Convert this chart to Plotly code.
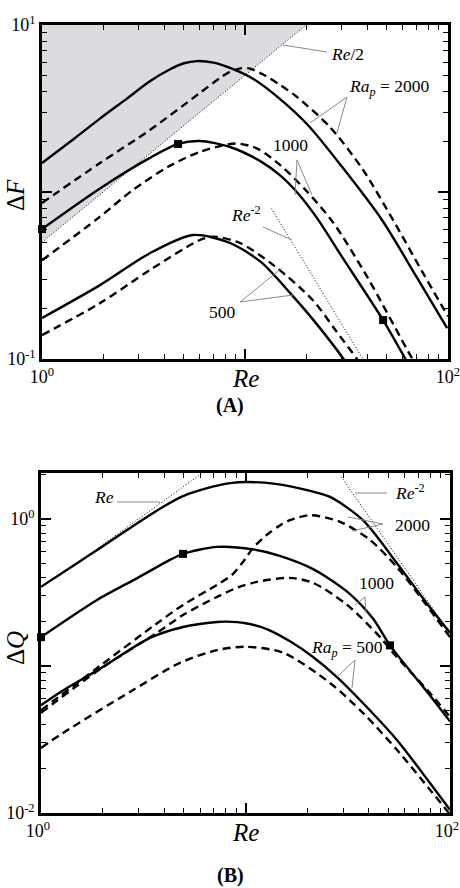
import plotly.graph_objects as go

W, H = 460, 888
FONT = "Liberation Serif"

# ---------------- Panel A data (Delta F vs Re) ----------------
re_a_s2000 = [1, 1.45, 1.93, 2.6, 3.4, 4.3, 5.0, 5.8, 7.0, 8.44, 11, 14.5, 20.4, 30, 47.3, 70, 99]
f_a_s2000 = [1.49, 2.1, 2.75, 3.6, 4.6, 5.45, 5.9, 6.08, 5.95, 5.53, 4.75, 3.7, 2.52, 1.42, 0.68, 0.31, 0.153]

re_a_d2000 = [1, 1.93, 3.4, 6.0, 7.5, 8.44, 9.5, 10.5, 12.3, 15, 18, 26.2, 38.1, 53.6, 75, 100]
f_a_d2000 = [0.86, 1.49, 2.35, 3.92, 4.8, 5.25, 5.5, 5.5, 5.05, 4.35, 3.71, 2.45, 1.36, 0.68, 0.33, 0.18]

re_a_s1000 = [1, 1.93, 3.4, 4.68, 6.0, 8.44, 12, 15, 18.0, 22.6, 30, 47.9, 61.4, 70]
f_a_s1000 = [0.60, 1.05, 1.6, 1.94, 2.02, 1.86, 1.52, 1.25, 1.0, 0.70, 0.41, 0.171, 0.101, 0.076]

re_a_d1000 = [1, 1.87, 2.81, 4.2, 6.0, 9.0, 11.5, 14.9, 20, 27.1, 40, 66.5, 75]
f_a_d1000 = [0.39, 0.69, 1.03, 1.42, 1.74, 1.95, 1.82, 1.45, 1.02, 0.66, 0.31, 0.101, 0.08]

re_a_s500 = [1, 1.93, 3.4, 5.54, 8.44, 12, 16.7, 22, 30.4, 35]
f_a_s500 = [0.176, 0.277, 0.43, 0.553, 0.495, 0.38, 0.248, 0.168, 0.101, 0.078]

re_a_d500 = [1, 1.93, 3.4, 6.0, 7.0, 9.45, 14, 21.6, 28, 35.6, 40]
f_a_d500 = [0.139, 0.216, 0.341, 0.516, 0.54, 0.495, 0.36, 0.225, 0.148, 0.10, 0.08]

mark_a_re = [1, 4.68, 47.9]
mark_a_f = [0.60, 1.94, 0.171]

re_half_line = [1, 20]            # Delta F = Re/2
re_a_minus2 = [13.5, 38]           # Delta F = 145 Re^-2
coef_a_minus2 = 145

# ---------------- Panel B data (Delta Q vs Re) ----------------
re_b_s2000 = [1, 1.5, 2, 2.82, 4.0, 4.95, 6.5, 8.4, 10.2, 14, 20, 25.9, 37.5, 55, 75, 100]
q_b_s2000 = [0.345, 0.5, 0.65, 0.895, 1.22, 1.43, 1.62, 1.75, 1.78, 1.73, 1.57, 1.41, 0.98, 0.5, 0.28, 0.168]

re_b_d2000 = [1, 1.94, 3.6, 4.95, 7.26, 8.59, 9.72, 10.9, 12.7, 14.7, 16.5, 20.7, 29, 40.6, 55, 75, 100]
q_b_d2000 = [0.05, 0.1, 0.19, 0.26, 0.356, 0.416, 0.51, 0.635, 0.778, 0.9, 0.98, 1.06, 0.955, 0.72, 0.47, 0.27, 0.157]

re_b_s1000 = [1, 1.88, 3.0, 4.27, 4.95, 7.26, 10.9, 14.7, 21.4, 31.4, 42, 50.9, 79.8, 100]
q_b_s1000 = [0.157, 0.281, 0.40, 0.526, 0.578, 0.645, 0.62, 0.56, 0.455, 0.32, 0.21, 0.138, 0.063, 0.042]

re_b_d1000 = [1, 1.94, 3.69, 4.95, 7.26, 9.09, 11.4, 16.5, 21.4, 31.4, 45.5, 52.6, 79.8, 100]
q_b_d1000 = [0.048, 0.095, 0.168, 0.222, 0.295, 0.34, 0.373, 0.397, 0.367, 0.26, 0.157, 0.123, 0.0655, 0.045]

re_b_s500 = [1, 1.28, 1.94, 3.41, 4.95, 7.26, 8.1, 10, 12.7, 16.5, 21.4, 28, 37.5, 55, 79.8, 100]
q_b_s500 = [0.054, 0.068, 0.0955, 0.155, 0.184, 0.199, 0.2, 0.195, 0.178, 0.147, 0.115, 0.084, 0.056, 0.0314, 0.016, 0.0105]

re_b_d500 = [1, 1.28, 2.72, 4.78, 7.26, 9.9, 15.3, 25.9, 37.5, 55, 79.8, 100]
q_b_d500 = [0.0277, 0.035, 0.0665, 0.105, 0.128, 0.135, 0.123, 0.0766, 0.048, 0.0269, 0.0144, 0.0098]

mark_b_re = [1, 4.95, 50.9]
mark_b_q = [0.157, 0.578, 0.138]

re_b_line = [1.9, 6.2]              # Delta Q = Re/3
coef_b_line = 1 / 3
re_b_minus2 = [29.4, 100]           # Delta Q = 1670 Re^-2
coef_b_minus2 = 1670

# ---------------- Tick labels ----------------
x_tickvals = [1, 10, 100]
x_ticktext = ["10<sup>0</sup>", "", "10<sup>2</sup>"]
ya_tickvals = [0.1, 1, 10]
ya_ticktext = ["10<sup>-1</sup>", "", "10<sup>1</sup>"]
yb_tickvals = [0.01, 0.1, 1]
yb_ticktext = ["10<sup>-2</sup>", "", "10<sup>0</sup>"]
x_minor = [2, 3, 4, 5, 6, 7, 8, 9, 20, 30, 40, 50, 60, 70, 80, 90]
ya_minor = [0.2, 0.3, 0.4, 0.5, 0.6, 0.7, 0.8, 0.9, 2, 3, 4, 5, 6, 7, 8, 9]
yb_minor = [0.02, 0.03, 0.04, 0.05, 0.06, 0.07, 0.08, 0.09, 0.2, 0.3, 0.4, 0.5, 0.6, 0.7, 0.8, 0.9, 2]


def px(x):
    return x / W


def py(y):
    return 1 - y / H


fig = go.Figure()

SOLID = dict(color="black", width=2.4)
DASH = dict(color="black", width=2.4, dash="8px,5px")
DOT = dict(color="black", width=1, dash="1px,2px")

# Shaded region above Re/2 (panel A)
top_a = ya_tickvals[-1]
half_vals = [r / 2 for r in re_half_line]
fig.add_trace(go.Scatter(
    x=re_half_line + [re_half_line[0]], y=half_vals + [top_a],
    fill="toself", fillcolor="#dcdce0", line=dict(width=0), mode="lines",
    xaxis="x", yaxis="y", hoverinfo="skip", showlegend=False))
fig.add_trace(go.Scatter(x=re_half_line, y=half_vals, mode="lines", line=DOT,
                         xaxis="x", yaxis="y", showlegend=False))
fig.add_trace(go.Scatter(x=re_a_minus2, y=[coef_a_minus2 / r ** 2 for r in re_a_minus2],
                         mode="lines", line=DOT, xaxis="x", yaxis="y", showlegend=False))

for xs, ys, ln in [(re_a_s2000, f_a_s2000, SOLID), (re_a_d2000, f_a_d2000, DASH),
                   (re_a_s1000, f_a_s1000, SOLID), (re_a_d1000, f_a_d1000, DASH),
                   (re_a_s500, f_a_s500, SOLID), (re_a_d500, f_a_d500, DASH)]:
    fig.add_trace(go.Scatter(x=xs, y=ys, mode="lines", line=dict(ln, shape="spline", smoothing=0.8),
                             xaxis="x", yaxis="y", showlegend=False))
fig.add_trace(go.Scatter(x=mark_a_re, y=mark_a_f, mode="markers",
                         marker=dict(symbol="square", size=8, color="black"),
                         xaxis="x", yaxis="y", showlegend=False, cliponaxis=False))

# Panel B
fig.add_trace(go.Scatter(x=re_b_line, y=[coef_b_line * r for r in re_b_line], mode="lines", line=DOT,
                         xaxis="x2", yaxis="y2", showlegend=False))
fig.add_trace(go.Scatter(x=re_b_minus2, y=[coef_b_minus2 / r ** 2 for r in re_b_minus2],
                         mode="lines", line=DOT, xaxis="x2", yaxis="y2", showlegend=False))
for xs, ys, ln in [(re_b_s2000, q_b_s2000, SOLID), (re_b_d2000, q_b_d2000, DASH),
                   (re_b_s1000, q_b_s1000, SOLID), (re_b_d1000, q_b_d1000, DASH),
                   (re_b_s500, q_b_s500, SOLID), (re_b_d500, q_b_d500, DASH)]:
    fig.add_trace(go.Scatter(x=xs, y=ys, mode="lines", line=dict(ln, shape="spline", smoothing=0.8),
                             xaxis="x2", yaxis="y2", showlegend=False))
fig.add_trace(go.Scatter(x=mark_b_re, y=mark_b_q, mode="markers",
                         marker=dict(symbol="square", size=8, color="black"),
                         xaxis="x2", yaxis="y2", showlegend=False, cliponaxis=False))

tickfont = dict(family=FONT, size=18, color="black")


def axis(domain, rng, tv, tt, minor_vals, anchor, shift=0):
    return dict(
        type="log", domain=domain, range=rng, anchor=anchor,
        tickmode="array", tickvals=tv, ticktext=tt,
        ticks="inside", ticklen=10, tickwidth=1.5, tickcolor="black",
        minor=dict(tickmode="array", tickvals=minor_vals, ticks="inside", ticklen=5,
                   tickwidth=1.2, tickcolor="black", showgrid=False),
        showline=True, linewidth=2.5, linecolor="black", mirror="allticks",
        showgrid=False, zeroline=False, tickfont=tickfont, automargin=False,
        ticklabeloverflow="allow", ticklabelshift=shift,
    )


fig.update_layout(
    width=W, height=H, margin=dict(l=0, r=0, t=0, b=0, pad=0, autoexpand=False),
    paper_bgcolor="white", plot_bgcolor="white", showlegend=False,
    xaxis=axis([px(42), px(448)], [0, 2], x_tickvals, x_ticktext, x_minor, "y"),
    yaxis=axis([py(359), py(25)], [-1, 1], ya_tickvals, ya_ticktext, ya_minor, "x"),
    xaxis2=axis([px(41), px(450)], [0, 2], x_tickvals, x_ticktext, x_minor, "y2", shift=-3),
    yaxis2=axis([py(813), py(473)], [-2, 0.312], yb_tickvals, yb_ticktext, yb_minor, "x2"),
)

ann = []
LBL = 17.5


def text(x, y, s, size=LBL, angle=0, anchor="center"):
    ann.append(dict(x=px(x), y=py(y), xref="paper", yref="paper", text=s, showarrow=False,
                    xanchor=anchor, yanchor="middle", textangle=angle,
                    font=dict(family=FONT, size=size, color="black")))


text(15, 195, "Δ<i>F</i>", 25, -90)
text(15, 648, "Δ<i>Q</i>", 25, -90)
text(245, 378, "<i>Re</i>", 25)
text(245, 832, "<i>Re</i>", 25)
text(230, 405, "<b>(A)</b>", 20)
text(230, 875, "<b>(B)</b>", 20)

# Panel A labels
text(347, 54, "<i>Re</i>/2")
text(389, 88, "<i>Ra</i><sub><i>p</i></sub> = 2000")
text(290, 145, "1000")
text(246, 214, "<i>Re</i><sup>-2</sup>")
text(222, 312, "500")
# Panel B labels
text(104, 497, "<i>Re</i>")
text(410, 492, "<i>Re</i><sup>-2</sup>")
text(412, 525, "2000")
text(376, 583, "1000")
text(347, 648, "<i>Ra</i><sub><i>p</i></sub> = 500")

fig.update_layout(annotations=ann)

pointers = [
    ((283, 45), (327, 52)),
    ((347, 97), (310, 123)), ((347, 97), (337, 133)),
    ((297, 160), (295, 195)), ((297, 160), (312, 195)),
    ((263, 227), (292, 240)),
    ((240, 302), (282, 268)), ((240, 302), (293, 295)),
    ((117, 502), (160, 502)),
    ((355, 493), (387, 493)),
    ((383, 524), (348, 517)), ((383, 524), (352, 531)),
    ((365, 597), (355, 605)), ((365, 597), (366, 613)),
    ((355, 660), (337, 677)), ((355, 660), (352, 688)),
]
shapes = []
for (x0, y0), (x1, y1) in pointers:
    shapes.append(dict(type="line", xref="paper", yref="paper", x0=px(x0), y0=py(y0),
                       x1=px(x1), y1=py(y1), line=dict(color="#888888", width=1)))
fig.update_layout(shapes=shapes)

fig.write_html("out.html")
